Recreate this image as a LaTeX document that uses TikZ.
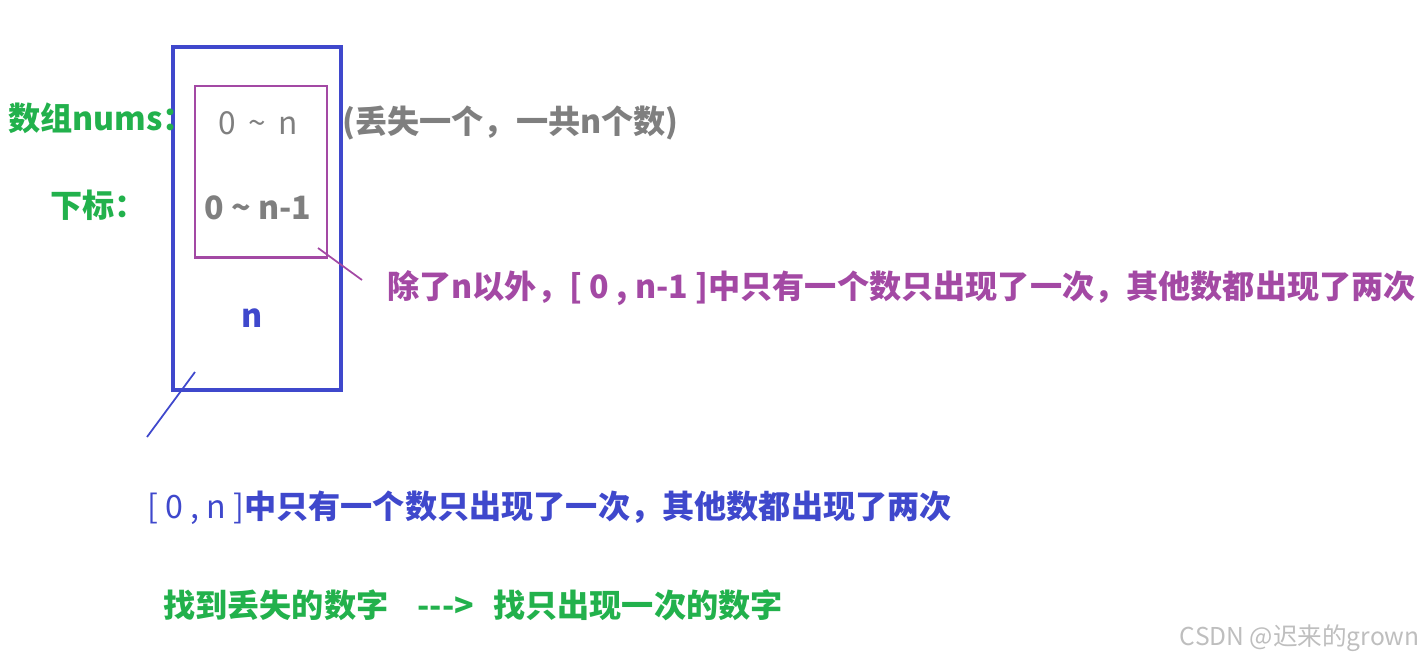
\documentclass[tikz,border=0pt]{standalone}
\usepackage{fontspec}
\setmainfont{Noto Sans CJK SC}
\definecolor{pgreen}{RGB}{34,177,76}
\definecolor{pblue}{RGB}{63,72,204}
\definecolor{ppurple}{RGB}{163,73,164}
\definecolor{pgray}{RGB}{127,127,127}
\definecolor{pmark}{RGB}{190,190,190}
\begin{document}
\begin{tikzpicture}[
    txt/.style={inner sep=0pt,font=\fontsize{18.3}{20}\selectfont\bfseries},
    frame/.style={draw,inner sep=0pt,minimum width=#1},
    link/.style={line width=1pt}]
            \useasboundingbox (0,0) rectangle (28.46,-13.3);
            %\draw[ultra thin,gray!20](0,-13.3) grid (28.46,0);
            \node[frame=3.36cm,pblue,line width=2.2pt,minimum height=6.86cm] (whole) at (5.14,-4.37) {};
            \node[frame=2.64cm,ppurple,line width=1.7pt,minimum height=3.42cm] (sub) at (5.22,-3.43) {};
            \node[txt,pgreen,anchor=west] (nums) at (0.16,-2.36) {数组nums：};
            \node[txt,pgreen,anchor=west] (idx) at (1.0,-4.1) {下标：};
            \node[txt,pgray,font=\fontsize{18}{20}\selectfont] (vals) at (5.16,-2.46) {0 \,\textasciitilde\, n};
            \node[txt,pgray] (idxs) at (5.16,-4.16) {0 \textasciitilde{} n-1};
            \node[txt,pgray,anchor=west] (lost) at (6.84,-2.46) {(丢失一个，一共n个数)};
            \node[txt,pblue] (last) at (5.04,-6.36) {n};
            \node[txt,ppurple,anchor=west] (note1) at (7.74,-5.76) {除了n以外，[ 0 , n-1 ]中只有一个数只出现了一次，其他数都出现了两次};
            \node[txt,pblue,anchor=west] (note2) at (2.94,-10.16) {{\mdseries[ 0 , n ]}中只有一个数只出现了一次，其他数都出现了两次};
            \node[txt,pgreen,anchor=west] (goal) at (3.26,-12.1) {找到丢失的数字\hspace{0.9em}-{}-{}->\hspace{0.6em}找只出现一次的数字};
            \node[txt,pmark,font=\fontsize{14}{16}\selectfont,anchor=east] (mark) at (28.4,-12.76) {CSDN @迟来的grown};
            \coordinate (p1) at (6.36,-4.96);
            \coordinate (p2) at (7.24,-5.6);
            \coordinate (b1) at (3.9,-7.44);
            \coordinate (b2) at (2.94,-8.74);
            \draw[link,ppurple] (p1) -- (p2);
            \draw[link,pblue] (b1) -- (b2);
\end{tikzpicture}
\end{document}
